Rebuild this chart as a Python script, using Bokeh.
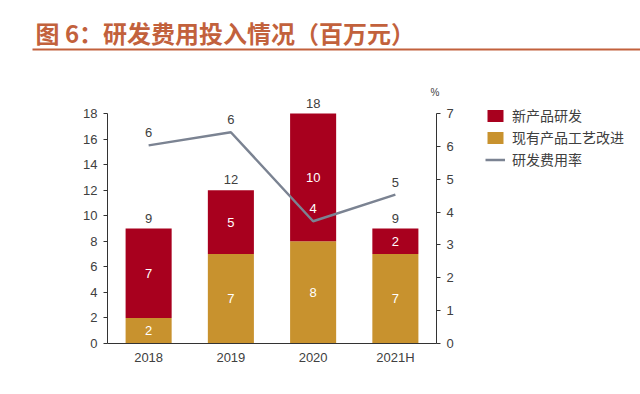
import numpy as np
from bokeh.plotting import figure
from bokeh.models import (ColumnDataSource, FactorRange, Range1d, LinearAxis,
                          Legend, LegendItem, SingleIntervalTicker, Title)
from bokeh.layouts import column, row
from bokeh.core.properties import value
from bokeh.embed import file_html
from bokeh.resources import INLINE

# ---- data ----
years = ["2018", "2019", "2020", "2021H"]
new_product = [7, 5, 10, 2]        # 新产品研发
improve = [2, 7, 8, 7]             # 现有产品工艺改进
rd_rate = [6.03, 6.43, 3.72, 4.53]  # 研发费用率 (%)
rate_labels = ["6", "6", "4", "5"]
series_names = ["新产品研发", "现有产品工艺改进", "研发费用率"]
title_text = "图 6：研发费用投入情况（百万元）"
left_ticks_max = 18
right_ticks_max = 7

RED = "#A8001E"
GOLD = "#C8922E"
GREY = "#7B8392"
TXT = "#404040"
TITLE_C = "#C2613C"
FONT = "Noto Sans CJK SC"
NUMF = "Liberation Sans"
W = 640


def bare(fig):
    fig.frame_align = False
    fig.axis.visible = False
    fig.grid.visible = False
    fig.outline_line_color = None


# ---- title strip (y 0..80) ----
TH = 80
t = figure(width=W, height=TH, x_range=Range1d(0, W), y_range=Range1d(0, TH),
           output_backend="svg", toolbar_location=None, min_border=0)
bare(t)
tsrc = ColumnDataSource(dict(x=[35], y=[TH - 32], text=[title_text]))
t.text(x="x", y="y", text="text", source=tsrc, text_font=value(FONT),
       text_font_size="24px", text_font_style="bold", text_color=TITLE_C,
       text_baseline="middle", text_align="left")
t.line(x=[32, W], y=[TH - 49, TH - 49], line_color=TITLE_C, line_width=2)

# ---- main chart (x 0..474, y 80..394) ----
totals = [a + b for a, b in zip(new_product, improve)]
src = ColumnDataSource(dict(
    years=years, new=new_product, improve=improve, total=totals,
    total_lbl=[str(v) for v in totals],
    imp_mid=[v / 2 for v in improve],
    new_mid=[i + n / 2 for i, n in zip(improve, new_product)],
    imp_lbl=[str(v) for v in improve],
    new_lbl=[str(v) for v in new_product],
    rate=rd_rate, rate_lbl=rate_labels,
    rate_col=[TXT, TXT, "white", TXT],
))

MH = 394 - TH
FRAME_TOP = 95           # page y of frame top
FRAME_BOT = 343          # page y of value 0
frame_h = float(FRAME_BOT - FRAME_TOP)
px_per_unit_l = 230.0 / left_ticks_max
px_per_unit_r = 230.0 / right_ticks_max
PW = 474
p = figure(width=PW, height=MH, x_range=FactorRange(*years),
           y_range=Range1d(0, frame_h / px_per_unit_l),
           output_backend="svg", toolbar_location=None,
           min_border_left=107, min_border_right=PW - 436,
           min_border_top=FRAME_TOP - TH, min_border_bottom=394 - FRAME_BOT)
p.frame_align = False
p.extra_y_ranges = {"pct": Range1d(0, frame_h / px_per_unit_r)}
p.outline_line_color = None
p.grid.visible = False

pct_title = Title(text="%", align="right", offset=-3, standoff=-5,
                  text_font=NUMF, text_font_size="10px", text_color=TXT,
                  text_font_style="normal")
p.add_layout(pct_title, "above")

bars = p.vbar_stack(["improve", "new"], x="years", width=0.56, color=[GOLD, RED],
                    line_color=None, source=src)
ln = p.line(x="years", y="rate", source=src, y_range_name="pct",
            line_color=GREY, line_width=2.5)

# labels
p.text(x="years", y="total", text="total_lbl", source=src, text_font=value(NUMF),
       text_font_size="13px", text_color=TXT, text_align="center",
       text_baseline="bottom", y_offset=-6)
p.text(x="years", y="imp_mid", text="imp_lbl", source=src, text_font=value(NUMF),
       text_font_size="13px", text_color="white", text_align="center",
       text_baseline="middle")
p.text(x="years", y="new_mid", text="new_lbl", source=src, text_font=value(NUMF),
       text_font_size="13px", text_color="white", text_align="center",
       text_baseline="middle")
p.text(x="years", y="rate", text="rate_lbl", source=src, y_range_name="pct",
       text_font=value(NUMF), text_font_size="13px", text_color="rate_col",
       text_align="center", text_baseline="bottom", y_offset=-8)

# axes
for ax in [p.yaxis[0], p.xaxis[0]]:
    ax.axis_line_color = "#333333"
    ax.major_label_text_font = NUMF
    ax.major_label_text_font_size = "13px"
    ax.major_label_text_color = TXT
    ax.minor_tick_line_color = None
p.yaxis[0].ticker = SingleIntervalTicker(interval=2)
p.yaxis[0].bounds = (0, left_ticks_max)
p.yaxis[0].major_tick_out = 4
p.yaxis[0].major_tick_in = 0
p.yaxis[0].major_tick_line_color = "#333333"
p.yaxis[0].major_label_standoff = 6
p.xaxis[0].major_tick_line_color = None
p.xaxis[0].major_label_standoff = 0

ra = LinearAxis(y_range_name="pct", ticker=SingleIntervalTicker(interval=1),
                bounds=(0, right_ticks_max))
ra.axis_line_color = "#333333"
ra.major_tick_line_color = "#333333"
ra.major_tick_out = 4
ra.major_tick_in = 0
ra.minor_tick_line_color = None
ra.major_label_text_font = NUMF
ra.major_label_text_font_size = "13px"
ra.major_label_text_color = TXT
ra.major_label_standoff = 6
p.add_layout(ra, "right")

# ---- legend panel (x 474..640) ----
LW = W - PW
lg = figure(width=LW, height=MH, x_range=Range1d(0, LW), y_range=Range1d(0, MH),
            output_backend="svg", toolbar_location=None, min_border=0)
bare(lg)
empty = ColumnDataSource(dict(x=np.array([np.nan]), y=np.array([np.nan])))
r_red = lg.vbar(x="x", top="y", width=1, color=RED, line_color=None, source=empty)
r_gold = lg.vbar(x="x", top="y", width=1, color=GOLD, line_color=None, source=empty)
r_line = lg.line(x="x", y="y", line_color=GREY, line_width=2.5, source=empty)
LEG_TOP = 107            # page y of legend top
LEG_H = 62
legend = Legend(items=[
    LegendItem(label=series_names[0], renderers=[r_red]),
    LegendItem(label=series_names[1], renderers=[r_gold]),
    LegendItem(label=series_names[2], renderers=[r_line]),
], location=(11, MH - (LEG_TOP - TH) - LEG_H), padding=0, margin=0, spacing=2,
    glyph_width=20, glyph_height=15, label_height=15, label_standoff=7,
    label_text_font=FONT, label_text_font_size="14px", label_text_color=TXT,
    border_line_alpha=0, background_fill_alpha=0)
lg.add_layout(legend)

layout = column(t, row(p, lg))
open("out.html", "w").write(file_html(layout, INLINE))
